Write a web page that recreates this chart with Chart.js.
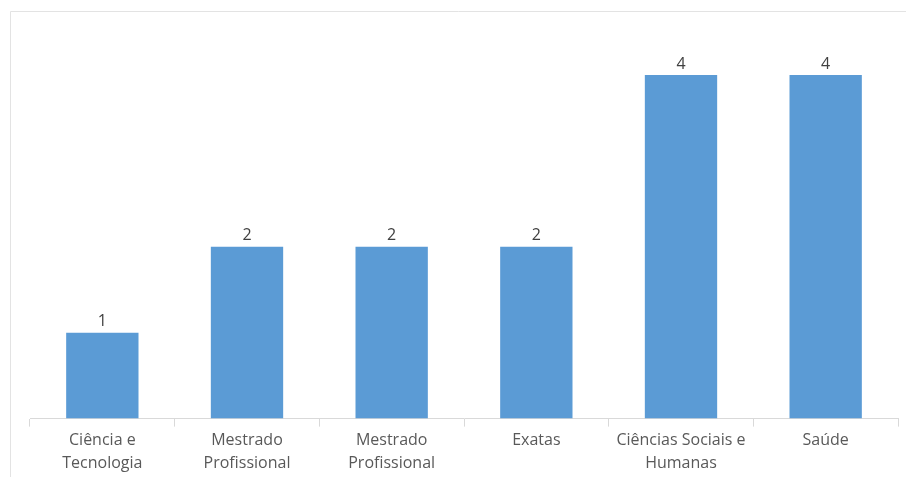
<!DOCTYPE html>
<html><head><meta charset="utf-8">
<script src="https://cdn.jsdelivr.net/npm/chart.js@4/dist/chart.umd.min.js"></script>
<style>html,body{margin:0;padding:0;background:#fff;}#wrap{width:906px;height:477px;position:relative;}</style>
</head><body><div id="wrap"><canvas id="c" width="906" height="477"></canvas></div>
<script>
const categories = [["Ciência e","Tecnologia"],["Mestrado","Profissional"],["Mestrado","Profissional"],["Exatas"],["Ciências Sociais e","Humanas"],["Saúde"]];
const values = [1,2,2,2,4,4];

const frame = {
  id:'frame',
  beforeDraw(chart){
    const ctx = chart.ctx;
    ctx.save();
    ctx.strokeStyle = '#e3e3e3';
    ctx.lineWidth = 1;
    ctx.beginPath();
    ctx.moveTo(10.5, 477);
    ctx.lineTo(10.5, 11.5);
    ctx.lineTo(906, 11.5);
    ctx.stroke();
    ctx.restore();
  }
};
const labels = {
  id:'vlabels',
  afterDatasetsDraw(chart){
    const ctx = chart.ctx;
    const meta = chart.getDatasetMeta(0);
    ctx.save();
    ctx.font = '16px "Open Sans"';
    ctx.fillStyle = '#404040';
    ctx.textAlign = 'center';
    ctx.textBaseline = 'middle';
    meta.data.forEach((bar,i)=>{
      ctx.fillText(String(values[i]), bar.x, bar.y - 11);
    });
    ctx.restore();
  }
};

new Chart(document.getElementById('c'), {
  type:'bar',
  data:{ labels: categories, datasets:[{ data: values, backgroundColor:'#5b9bd5', borderWidth:0, barPercentage:0.5, categoryPercentage:1 }]},
  options:{
    responsive:false, animation:false,
    layout:{ padding:{ left:30, right:8, top:32, bottom:0 } },
    plugins:{ legend:{display:false}, tooltip:{enabled:false} },
    scales:{
      x:{
        grid:{ drawOnChartArea:false, drawTicks:true, tickLength:8, color:'#d9d9d9', offset:true },
        border:{ color:'#d9d9d9' },
        ticks:{ color:'#595959', font:{ family:'"Open Sans"', size:16, lineHeight:1.45 }, padding:2, maxRotation:0, autoSkip:false }
      },
      y:{ display:false, min:0, max:4.5 }
    }
  },
  plugins:[frame, labels]
});
</script></body></html>
